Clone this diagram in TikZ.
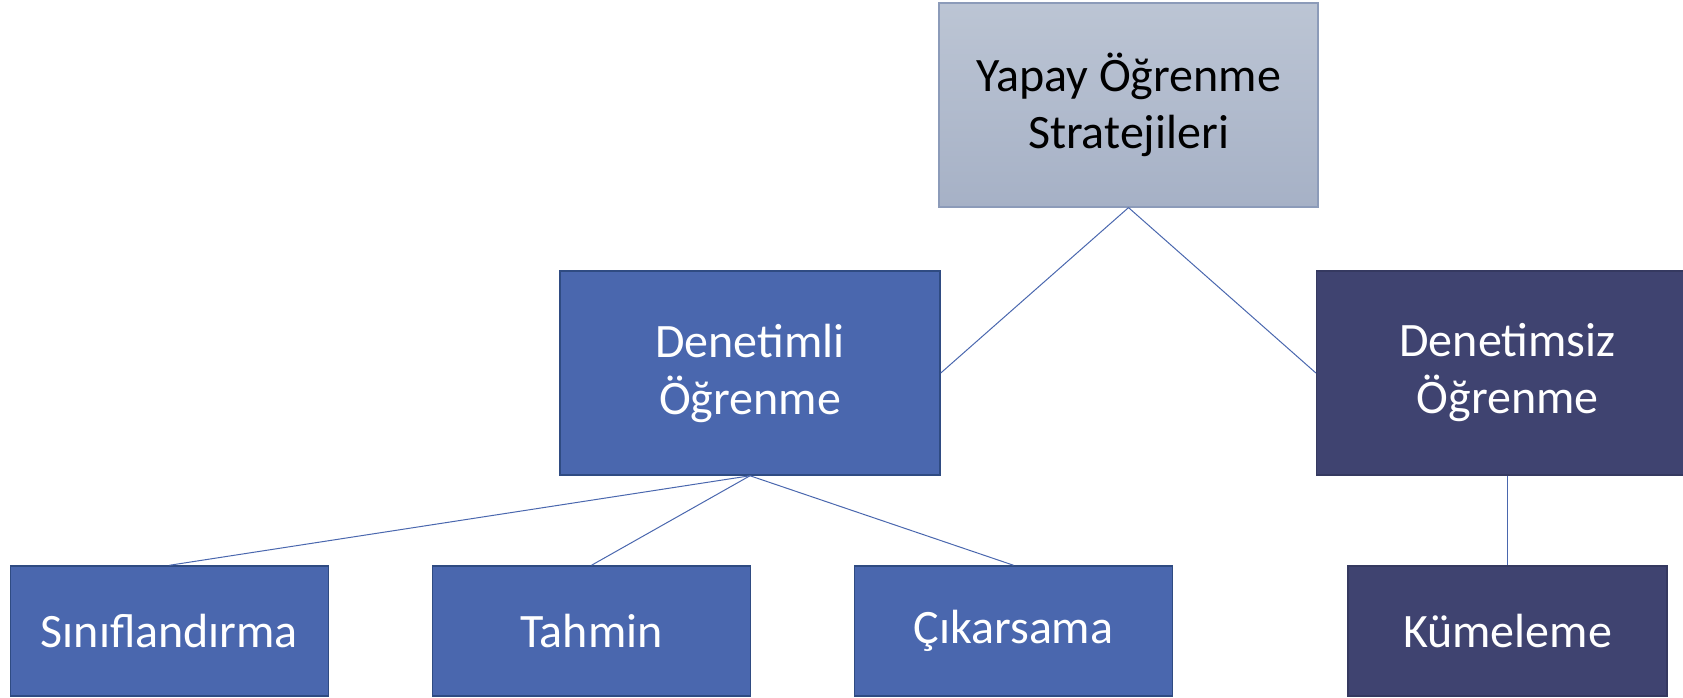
\documentclass[tikz,border=0pt]{standalone}
\usepackage{fontspec}
\setmainfont{Carlito}
\usetikzlibrary{positioning}
\definecolor{topfill}{HTML}{BCC5D4}
\definecolor{topfillb}{HTML}{A6B1C6}
\definecolor{topline}{HTML}{8C9BB9}
\definecolor{supfill}{HTML}{4A67AE}
\definecolor{supline}{HTML}{2F4B82}
\definecolor{unsfill}{HTML}{3F4370}
\definecolor{unsline}{HTML}{353960}
\definecolor{link}{HTML}{4A67AE}

\begin{document}
\begin{tikzpicture}[
  x=1pt, y=-1pt,
  font=\fontsize{48}{57}\selectfont,
  root/.style={draw=topline, line width=1.2pt, top color=topfill, bottom color=topfillb, text=black, align=center, minimum width=379pt, minimum height=204pt, inner sep=0pt},
  sup/.style={draw=supline, line width=1.5pt, fill=supfill, text=white, align=center, minimum width=380pt, minimum height=204pt, inner sep=0pt},
  uns/.style={draw=unsline, line width=1.2pt, fill=unsfill, text=white, align=center, minimum width=382pt, minimum height=204pt, inner sep=0pt},
  leaf/.style={draw=supline, line width=1.5pt, fill=supfill, text=white, align=center, minimum width=318pt, minimum height=130pt, inner sep=0pt},
  ucl/.style={draw=unsline, line width=1.2pt, fill=unsfill, text=white, align=center, minimum width=319pt, minimum height=130pt, inner sep=0pt},
  tie/.style={draw=link, line width=1pt},
]
\useasboundingbox (0,0) rectangle (1683,697);
% root
\node[root] (strat) at (1128.5,105) {Yapay Öğrenme\\Stratejileri};
% second level
\node[sup] (denetimli) at (750,373) {Denetimli\\Öğrenme};
\node[uns] (denetimsiz) at (1507.5,373) {Denetimsiz\\Öğrenme};
% leaves
\node[leaf] (sinif) at (169.5,631) {Sınıflandırma};
\node[leaf] (tahmin) at (591.5,631) {Tahmin};
\node[leaf] (cikar) at (1013.5,631) {Çıkarsama};
\node[ucl] (kume) at (1507.5,631) {Kümeleme};
% links
\draw[tie] (strat.south) -- (denetimli.east);
\draw[tie] (strat.south) -- (denetimsiz.west);
\draw[tie] (denetimli.south) -- (sinif.north);
\draw[tie] (denetimli.south) -- (tahmin.north);
\draw[tie] (denetimli.south) -- (cikar.north);
\draw[tie] (denetimsiz.south) -- (kume.north);
\end{tikzpicture}
\end{document}
